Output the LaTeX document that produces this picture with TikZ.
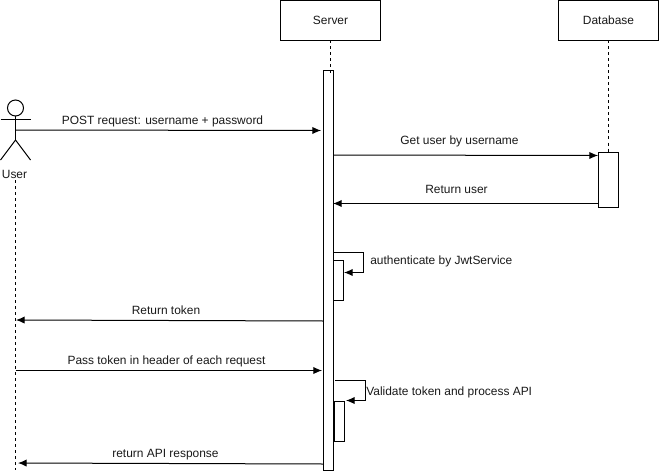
\documentclass[tikz,border=0pt]{standalone}
\usepackage{fontspec}
\setmainfont{Liberation Sans}
\usetikzlibrary{arrows.meta}
\tikzset{
  x=0.75pt,y=-0.75pt,
  every node/.style={font=\fontsize{8.96}{11}\selectfont,text=black!90},
  boxed/.style={draw=black,line width=0.75pt,fill=white,inner sep=0pt,outer sep=0pt,anchor=north west},
  life/.style={draw=black,line width=0.75pt,dash pattern=on 2.25pt off 2.25pt},
  msg/.style={draw=black,line width=0.75pt,-{Latex[length=6.5pt,width=5.5pt]}},
  limb/.style={draw=black,line width=0.75pt},
}
\begin{document}
\begin{tikzpicture}
\useasboundingbox (0,0) rectangle (659,474);
\fill[white] (0,0) rectangle (659,474);
% lifelines
\coordinate (uL0) at (15.5,180);
\coordinate (uL1) at (15.5,470);
\coordinate (sL0) at (330,40.5);
\coordinate (sL1) at (330,76);
\coordinate (dL0) at (608,40.5);
\coordinate (dL1) at (608,152);
\draw[life] (dL0) -- (dL1);
\draw[life] (uL0) -- (uL1);
% boxes
\node[boxed,minimum width=75pt,minimum height=30pt] (server) at (280.5,0.5) {Server};
\node[boxed,minimum width=75pt,minimum height=30pt] (database) at (558.5,0.5) {Database};
\node[boxed,minimum width=7.5pt,minimum height=300pt] (act) at (323.5,70.5) {};
\node[boxed,minimum width=15pt,minimum height=41.25pt] (dbact) at (598.5,152) {};
\node[boxed,minimum width=7.5pt,minimum height=30pt] (auth) at (333.5,260.5) {};
\node[boxed,minimum width=7.5pt,minimum height=30pt] (valid) at (334.5,401) {};
\draw[life] (sL0) -- (sL1);
% actor
\draw[limb] (15.5,108) circle[radius=8];
\coordinate (neck) at (15.5,116);
\coordinate (hip) at (15.5,140);
\draw[limb] (neck) -- (hip);
\draw[limb] (0.5,120) -- (30.5,120);
\draw[limb] (0.5,160) -- (hip) -- (30.5,160);
\node (user) at (14.5,174.5) {User};
% messages
\coordinate (m1a) at (15.5,130);
\coordinate (m1b) at (321,130.5);
\draw[msg] (m1a) -- (m1b);
\node (l1) at (162.5,121) {POST request: username + password};
\coordinate (m2a) at (333.5,155);
\coordinate (m2b) at (598,155.5);
\draw[msg] (m2a) -- (m2b);
\node (l2) at (459.5,141) {Get user by username};
\coordinate (m3a) at (598.5,203.5);
\coordinate (m3b) at (333,203.5);
\draw[msg] (m3a) -- (m3b);
\node (l3) at (456.5,189.5) {Return user};
\coordinate (c1) at (333.5,252.5);
\coordinate (c2) at (363.5,252.5);
\coordinate (c3) at (363.5,272.5);
\coordinate (c4) at (344,272.5);
\draw[msg] (c1) -- (c2) -- (c3) -- (c4);
\node[anchor=west,inner sep=0pt] (l4) at (370,261) {authenticate by JwtService};
\coordinate (m5a) at (323.5,321);
\coordinate (m5b) at (16,320);
\draw[msg] (m5a) -- (m5b);
\node (l5) at (166,310.5) {Return token};
\coordinate (m6a) at (15.5,370.5);
\coordinate (m6b) at (322,370.5);
\draw[msg] (m6a) -- (m6b);
\node (l6) at (166.5,361) {Pass token in header of each request};
\coordinate (d1) at (335,380.5);
\coordinate (d2) at (365.5,380.5);
\coordinate (d3) at (365.5,400.5);
\coordinate (d4) at (346,400.5);
\draw[msg] (d1) -- (d2) -- (d3) -- (d4);
\node[anchor=west,inner sep=0pt] (l7) at (366,392) {Validate token and process API};
\coordinate (m8a) at (323.5,464);
\coordinate (m8b) at (18,463);
\draw[msg] (m8a) -- (m8b);
\node (l8) at (165.5,454.5) {return API response};
\end{tikzpicture}
\end{document}
